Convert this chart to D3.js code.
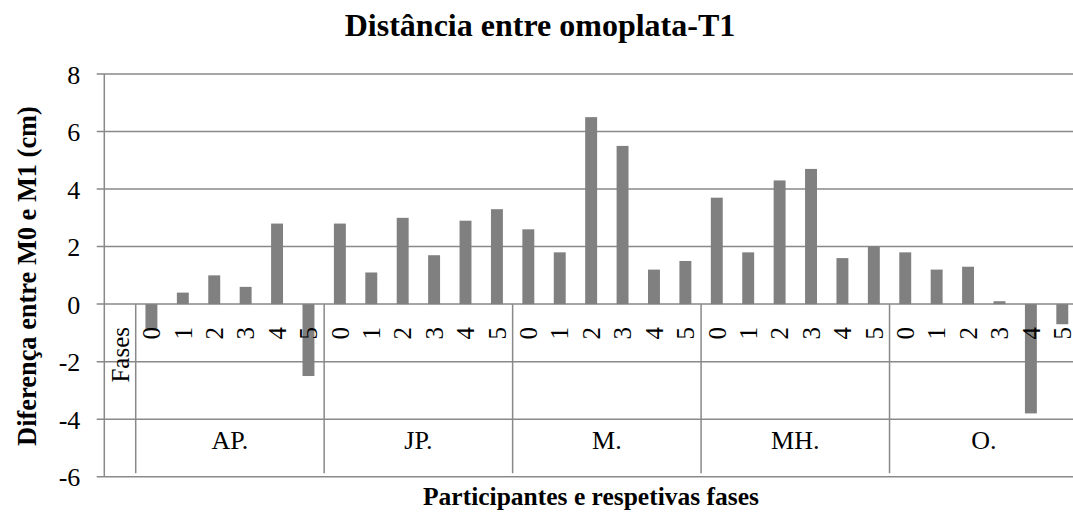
<!DOCTYPE html>
<html>
<head>
<meta charset="utf-8">
<script src="https://cdn.jsdelivr.net/npm/d3@7"></script>
<style>
  html, body { margin: 0; padding: 0; background: #fff; overflow: hidden; }
  svg { display: block; font-family: "Liberation Serif", "Times New Roman", serif; }
</style>
</head>
<body>
<svg id="chart" width="1073" height="512"></svg>
<script>
const groups = ["AP.", "JP.", "M.", "MH.", "O."];
const phases = ["0", "1", "2", "3", "4", "5"];
const valuesAP = [-0.9, 0.4, 1.0, 0.6, 2.8, -2.5];
const valuesJP = [2.8, 1.1, 3.0, 1.7, 2.9, 3.3];
const valuesM  = [2.6, 1.8, 6.5, 5.5, 1.2, 1.5];
const valuesMH = [3.7, 1.8, 4.3, 4.7, 1.6, 2.0];
const valuesO  = [1.8, 1.2, 1.3, 0.1, -3.8, -0.7];
const yTicks = [-6, -4, -2, 0, 2, 4, 6, 8];
const phaseHeader = "Fases";
const titleText = "Distância entre omoplata-T1";
const yTitleText = "Diferença entre M0 e M1 (cm)";
const xTitleText = "Participantes e respetivas fases";

(function () {
const seriesValues = [valuesAP, valuesJP, valuesM, valuesMH, valuesO];
const data = [];
groups.forEach((g, gi) => {
  phases.forEach((p, pi) => {
    data.push({ key: g + "|" + p, group: g, phase: p, value: seriesValues[gi][pi] });
  });
});
const keys = ["__fases__"].concat(data.map(d => d.key));

const svg = d3.select("#chart");
const pLeft = 104.3, pRight = 1078, pTop = 74, pBottom = 476.7;
const gridColor = "#898989";
const serif = "Liberation Serif";

const x = d3.scaleBand().domain(keys).range([pLeft, pRight]).paddingInner(0.62).paddingOuter(0.31);
const y = d3.scaleLinear().domain([-6, 8]).range([pBottom, pTop]);
const step = x.step();
const slotStart = k => x(k) - x.paddingInner() * step / 2;

// gridlines
svg.append("g").selectAll("line").data(yTicks).join("line")
  .attr("x1", pLeft - 7.6).attr("x2", pRight)
  .attr("y1", d => y(d)).attr("y2", d => y(d))
  .attr("stroke", gridColor).attr("stroke-width", 1.5);

// y axis line
svg.append("line").attr("x1", pLeft).attr("x2", pLeft).attr("y1", pTop).attr("y2", pBottom)
  .attr("stroke", gridColor).attr("stroke-width", 1.5);

// y tick labels via axis
const yAxis = svg.append("g").attr("transform", `translate(${pLeft},0)`)
  .call(d3.axisLeft(y).tickValues(yTicks).tickSize(0).tickPadding(24).tickFormat(d => String(d)));
yAxis.attr("font-family", serif).attr("font-size", 26);
yAxis.select(".domain").remove();
yAxis.selectAll("text").attr("fill", "#000").attr("dy", "0.35em");

// category separators
const sepX = [slotStart(keys[1])];
groups.forEach((g) => {
  const lastKey = g + "|" + phases[phases.length - 1];
  sepX.push(slotStart(lastKey) + step);
});
svg.append("g").selectAll("line").data(sepX).join("line")
  .attr("x1", d => d).attr("x2", d => d)
  .attr("y1", y(0)).attr("y2", pBottom - 3.5)
  .attr("stroke", gridColor).attr("stroke-width", 1.5);

// bars
svg.append("g").selectAll("rect").data(data).join("rect")
  .attr("x", d => x(d.key))
  .attr("width", x.bandwidth())
  .attr("y", d => y(Math.max(0, d.value)))
  .attr("height", d => Math.abs(y(d.value) - y(0)))
  .attr("fill", "#808080");

// phase labels (rotated)
const labelTop = 327;
const phaseG = svg.append("g").attr("font-family", serif).attr("font-size", 25);
phaseG.selectAll("text").data(data).join("text")
  .attr("transform", d => `translate(${x(d.key) + x.bandwidth() / 2},${labelTop}) rotate(-90)`)
  .attr("text-anchor", "end").attr("dy", "0.35em")
  .text(d => d.phase);
phaseG.append("text")
  .attr("transform", `translate(${x("__fases__") + x.bandwidth() / 2},${labelTop}) rotate(-90)`)
  .attr("text-anchor", "end").attr("dy", "0.35em")
  .text(phaseHeader);

// group labels
svg.append("g").attr("font-family", serif).attr("font-size", 26)
  .selectAll("text").data(groups).join("text")
  .attr("x", g => (slotStart(g + "|" + phases[0]) + slotStart(g + "|" + phases[5]) + step) / 2)
  .attr("y", 449).attr("text-anchor", "middle").text(g => g);

// titles
svg.append("text").attr("x", 540).attr("y", 36).attr("text-anchor", "middle")
  .attr("font-family", serif).attr("font-size", 32).attr("font-weight", "bold").text(titleText);
svg.append("text").attr("transform", `translate(27,276) rotate(-90)`)
  .attr("text-anchor", "middle").attr("dy", "0.35em")
  .attr("font-family", serif).attr("font-size", 26.4).attr("font-weight", "bold").text(yTitleText);
svg.append("text").attr("x", 591).attr("y", 505).attr("text-anchor", "middle")
  .attr("font-family", serif).attr("font-size", 25.5).attr("font-weight", "bold").text(xTitleText);
})();
</script>
</body>
</html>
